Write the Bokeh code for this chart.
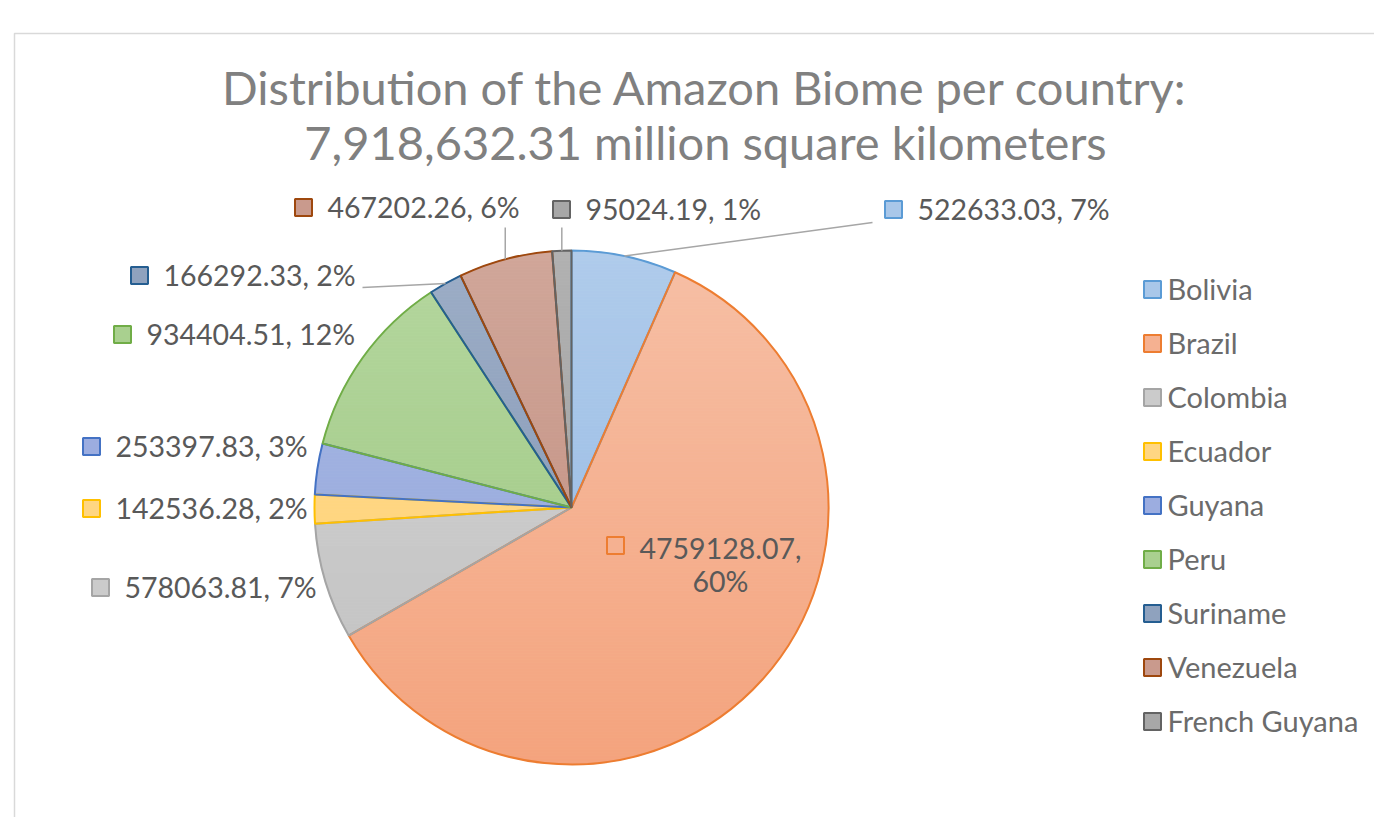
import numpy as np
from bokeh.plotting import figure
from bokeh.embed import file_html
from bokeh.resources import INLINE
from bokeh.core.properties import value

# ---------------- data ----------------
countries = ["Bolivia", "Brazil", "Colombia", "Ecuador", "Guyana", "Peru",
             "Suriname", "Venezuela", "French Guyana"]
areas = [522633.03, 4759128.07, 578063.81, 142536.28, 253397.83, 934404.51,
         166292.33, 467202.26, 95024.19]
title_lines = ["Distribution of the Amazon Biome per country:",
               "7,918,632.31 million square kilometers"]

# ---------------- styles ----------------
top_cols = ["#afcbeb", "#f6bfa5", "#d4d4d4", "#ffdd98", "#aabae4", "#b4d69e",
            "#9cadc6", "#d0a699", "#b1b1b1"]
bot_cols = ["#93b8e2", "#f4a37d", "#c0c0c0", "#ffcf6a", "#8fa2da", "#9cc77f",
            "#8093b2", "#bf8b7c", "#9a9a9a"]
fills = ["#a9c7e9", "#f5b191", "#cbcbcb", "#ffd682", "#9cade0", "#a9d08f",
         "#8fa2be", "#c99a8d", "#a7a7a7"]
lines = ["#5b9bd5", "#ed7d31", "#a5a5a5", "#ffc000", "#4472c4", "#70ad47",
         "#255e91", "#9e480e", "#636363"]

# label marker positions (screen px) and leader line end (screen px, or None)
label_pos = [(893, 209), (615, 545), (100, 587), (91, 508), (91, 446),
             (122, 334), (139, 275), (303, 207), (561, 209)]
leader_end = [(872, 222), None, None, None, None, None, (362, 287),
              ("v", 227), ("v", 227)]

W, H = 1374, 817
def X(sx):
    return sx
def Y(sy):
    return H - sy

def hex2rgb(h):
    h = h.lstrip("#")
    return np.array([int(h[i:i + 2], 16) for i in (0, 2, 4)], dtype=float)

def mix(a, b, t):
    c = hex2rgb(a) * (1 - t) + hex2rgb(b) * t
    return "#%02x%02x%02x" % tuple(int(round(v)) for v in c)

def clip_half(poly, yv, keep_above):
    out = []
    n = len(poly)
    for k in range(n):
        P = poly[k]
        Q = poly[(k + 1) % n]
        pin = P[1] >= yv if keep_above else P[1] <= yv
        qin = Q[1] >= yv if keep_above else Q[1] <= yv
        if pin:
            out.append(P)
        if pin != qin:
            t = (yv - P[1]) / (Q[1] - P[1])
            out.append((P[0] + t * (Q[0] - P[0]), yv))
    return out

FONT = value("Lato")
LBL = "28.5px"
p = figure(width=W, height=H, x_range=(0, W), y_range=(0, H), min_border=0,
           output_backend="svg", toolbar_location=None)
p.axis.visible = False
p.grid.visible = False
p.outline_line_color = None
p.background_fill_color = "white"

# chart frame
p.quad(left=[X(14)], right=[X(1400)], bottom=[Y(900)], top=[Y(33)],
       fill_color=None, line_color="#d9d9d9", line_width=1.5)

# title
for i, t in enumerate(title_lines):
    p.text(x=[X(705)], y=[Y(86 + 55 * i)], text=[t], text_font=FONT,
           text_font_size="47px", text_color="#808080",
           text_align="center", text_baseline="middle")

# pie
vals = np.array(areas)
total = vals.sum()
frac = vals / total
cum = np.concatenate([[0], np.cumsum(frac)])
start = np.pi / 2 - 2 * np.pi * cum[:-1]
end = np.pi / 2 - 2 * np.pi * cum[1:]
cx, cy, R = X(571), Y(507), 257

# gradient fill: each slice cut into thin horizontal bands
band = 3.0
xs_all, ys_all, cols_all = [], [], []
for i in range(len(countries)):
    n = max(4, int(abs(start[i] - end[i]) / (2 * np.pi) * 360))
    angs = np.linspace(start[i], end[i], n + 1)
    poly = [(cx, cy)] + [(cx + R * np.cos(a), cy + R * np.sin(a)) for a in angs]
    ymin = min(q[1] for q in poly)
    ymax = max(q[1] for q in poly)
    yb = np.floor((ymin - (cy - R)) / band) * band + (cy - R)
    while yb < ymax:
        yt = yb + band
        piece = clip_half(poly, yb, True)
        if piece:
            piece = clip_half(piece, yt, False)
        if len(piece) >= 3:
            tt = ((cy + R) - (yb + yt) / 2) / (2 * R)
            tt = min(max(tt, 0), 1)
            xs_all.append([q[0] for q in piece])
            ys_all.append([q[1] for q in piece])
            cols_all.append(mix(top_cols[i], bot_cols[i], tt))
        yb = yt
p.patches(xs=xs_all, ys=ys_all, fill_color=cols_all, line_color=cols_all,
          line_width=0.8)
p.wedge(x=cx, y=cy, radius=R, start_angle=start, end_angle=end,
        direction="clock", fill_color=None, line_color=lines, line_width=2)

# data labels
mid = (cum[:-1] + cum[1:]) / 2
for i, c in enumerate(countries):
    pct = int(round(frac[i] * 100))
    mx, my = label_pos[i]
    p.rect(x=[X(mx)], y=[Y(my)], width=17, height=17, fill_color=fills[i],
           line_color=lines[i], line_width=2)
    if c == "Brazil":
        p.text(x=[X(720)], y=[Y(548)], text=[f"{areas[i]:.2f},"], text_font=FONT,
               text_font_size=LBL, text_color="#595959",
               text_align="center", text_baseline="middle")
        p.text(x=[X(720)], y=[Y(580)], text=[f"{pct}%"], text_font=FONT,
               text_font_size=LBL, text_color="#595959",
               text_align="center", text_baseline="middle")
    else:
        p.text(x=[X(mx + 24)], y=[Y(my - 1)], text=[f"{areas[i]:.2f}, {pct}%"],
               text_font=FONT, text_font_size=LBL, text_color="#595959",
               text_align="left", text_baseline="middle")
    le = leader_end[i]
    if le is not None:
        ang = 2 * np.pi * mid[i]
        ax = cx + R * np.sin(ang)
        ay = cy + R * np.cos(ang)
        if le[0] == "v":
            ex, ey = ax, Y(le[1])
        else:
            ex, ey = X(le[0]), Y(le[1])
        p.line(x=[ax, ex], y=[ay, ey], line_color="#a6a6a6", line_width=1.5)

# legend
for i, c in enumerate(countries):
    ly = 289 + 54 * i
    p.rect(x=[X(1152)], y=[Y(ly)], width=17, height=17, fill_color=fills[i],
           line_color=lines[i], line_width=2)
    p.text(x=[X(1167)], y=[Y(ly - 1)], text=[c], text_font=FONT,
           text_font_size="29px", text_color="#6b6b6b",
           text_align="left", text_baseline="middle")

open("out.html", "w").write(file_html(p, INLINE))
